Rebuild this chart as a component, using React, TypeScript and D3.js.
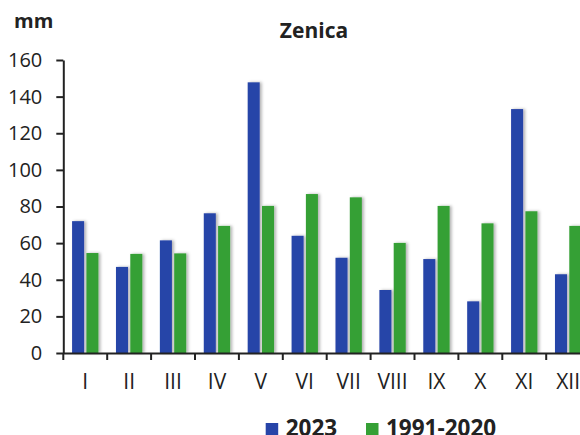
import React, { useEffect, useRef } from 'react';
import * as d3 from 'd3';

const months = ['I', 'II', 'III', 'IV', 'V', 'VI', 'VII', 'VIII', 'IX', 'X', 'XI', 'XII'];
const series = ['2023', '1991-2020'];
const values2023 = [72, 47, 61.5, 76.3, 147.8, 64, 52, 34.4, 51.3, 28.2, 133.2, 43];
const valuesNormal = [54.6, 54.1, 54.4, 69.4, 80.3, 86.8, 85, 60.1, 80.3, 70.8, 77.4, 69.4];
const yTicks = [0, 20, 40, 60, 80, 100, 120, 140, 160];
const colors = ['#2744a8', '#35a035'];

const App = () => {
  const svgRef = useRef<SVGSVGElement>(null);

  useEffect(() => {
    const svg = d3.select(svgRef.current);
    svg.selectAll('*').remove();

    const font = '"Open Sans", "DejaVu Sans", sans-serif';
    const left = 63.3;
    const bottom = 353;
    const top = 60;

    const defs = svg.append('defs');
    const f = defs.append('filter').attr('id', 'shadow')
      .attr('x', '-50%').attr('y', '-10%').attr('width', '200%').attr('height', '120%');
    f.append('feDropShadow')
      .attr('dx', 2).attr('dy', 0).attr('stdDeviation', 1.8)
      .attr('flood-color', '#000').attr('flood-opacity', 0.3);

    const x = d3.scaleBand<string>()
      .domain(months)
      .range([left, left + 43.9 * 12]);

    const x1 = d3.scaleBand<string>()
      .domain(series)
      .range([x.bandwidth() * 0.2, x.bandwidth() * 0.8])
      .paddingInner(0.16);

    const y = d3.scaleLinear()
      .domain([0, 160])
      .range([bottom, top]);

    const rows = months.map((m, i) => ({ m, vals: [values2023[i], valuesNormal[i]] }));

    const groups = svg.append('g').selectAll('g')
      .data(rows)
      .join('g')
      .attr('transform', d => `translate(${x(d.m)},0)`);

    groups.selectAll('rect')
      .data(d => d.vals.map((v, j) => ({ key: series[j], v, j })))
      .join('rect')
      .attr('x', d => x1(d.key) as number)
      .attr('width', x1.bandwidth())
      .attr('y', d => y(d.v))
      .attr('height', d => y(0) - y(d.v))
      .attr('fill', d => colors[d.j])
      .attr('filter', 'url(#shadow)');

    // y axis
    const yAxis = svg.append('g')
      .attr('transform', `translate(${left},0)`)
      .call(d3.axisLeft(y).tickValues(yTicks).tickSize(7).tickPadding(14).tickSizeOuter(0));
    yAxis.select('.domain').attr('stroke', '#222').attr('stroke-width', 2);
    yAxis.selectAll('.tick line').attr('stroke', '#222').attr('stroke-width', 2);
    yAxis.selectAll('.tick text')
      .attr('font-family', font)
      .attr('font-size', 20)
      .attr('fill', '#222');

    // x axis
    const xAxis = svg.append('g')
      .attr('transform', `translate(0,${bottom})`)
      .call(d3.axisBottom(x).tickSize(0).tickPadding(21).tickSizeOuter(0));
    xAxis.select('.domain').attr('stroke', '#222').attr('stroke-width', 2);
    xAxis.selectAll('.tick text')
      .attr('font-family', font)
      .attr('font-size', 21)
      .attr('fill', '#222');

    svg.append('g')
      .selectAll('line')
      .data(months)
      .join('line')
      .attr('x1', d => x(d) as number)
      .attr('x2', d => x(d) as number)
      .attr('y1', bottom)
      .attr('y2', bottom + 7)
      .attr('stroke', '#222')
      .attr('stroke-width', 2);

    svg.append('text')
      .attr('x', 14)
      .attr('y', 28)
      .attr('font-family', font)
      .attr('font-size', 20)
      .attr('font-weight', 'bold')
      .attr('fill', '#222')
      .text('mm');

    svg.append('text')
      .attr('x', 314)
      .attr('y', 38)
      .attr('text-anchor', 'middle')
      .attr('font-family', font)
      .attr('font-size', 21)
      .attr('font-weight', 'bold')
      .attr('fill', '#222')
      .text('Zenica');

    // legend
    const legendX = [265.7, 366];
    const legend = svg.append('g')
      .selectAll('g')
      .data(series)
      .join('g')
      .attr('transform', (d, i) => `translate(${legendX[i]},0)`);
    legend.append('rect')
      .attr('x', 0)
      .attr('y', 423)
      .attr('width', 12.5)
      .attr('height', 12.5)
      .attr('fill', (d, i) => colors[i]);
    legend.append('text')
      .attr('x', 20)
      .attr('y', 436)
      .attr('font-family', font)
      .attr('font-size', 22.5)
      .attr('font-weight', 'bold')
      .attr('fill', '#222')
      .text(d => d);
  }, []);

  return (
    <svg
      ref={svgRef}
      width={580}
      height={435}
      style={{ position: 'absolute', left: 0, top: 0, background: '#fff' }}
    />
  );
};

export default App;
